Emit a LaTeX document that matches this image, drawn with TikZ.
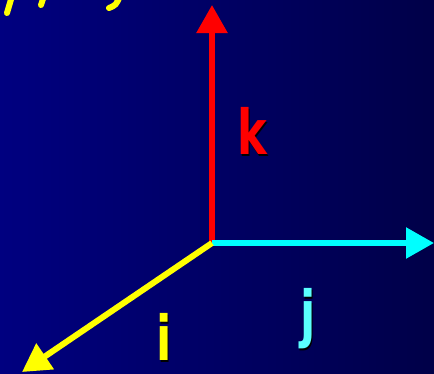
\documentclass[tikz,border=0pt]{standalone}
\definecolor{navyL}{RGB}{0, 0, 128}
\definecolor{navyR}{RGB}{0, 0, 72}
\definecolor{axisI}{RGB}{255, 255, 0}
\definecolor{axisJ}{RGB}{0, 255, 255}
\definecolor{axisK}{RGB}{255, 0, 0}
\definecolor{labJ}{RGB}{90, 255, 255}
\usepackage{tikz}
\usetikzlibrary{arrows.meta, positioning, calc}
\usepackage{fontspec}
\setsansfont{DejaVu Sans}
% letter with a black drop shadow
\newcommand{\shadowed}[2]{\rlap{\kern2pt\raisebox{-2pt}{\color{black}#2}}\textcolor{#1}{#2}}

\begin{document}
\begin{tikzpicture}[x=1pt, y=-1pt,
    axis/.style={line width=5.5pt, -{Triangle[length=28pt, width=30pt]}},
    lab/.style={font=\sffamily\bfseries\fontsize{62}{62}\selectfont, inner sep=0pt, xscale=0.72}]
  % background
  \shade[left color=navyL, right color=navyR] (0,0) rectangle (434,373);
  \useasboundingbox (0,0) rectangle (434,373);

  % cut-off title strokes
  \draw[axisI, line width=6pt, line cap=round] (12,-4) -- (7,13);
  \draw[axisI, line width=6pt, line cap=round] (44,-4) -- (41,5);
  \draw[axisI, line width=6pt, line cap=round] (120,-4) .. controls (116,5) .. (109,8);

  % axes
  \coordinate (o) at (212,243);
  \coordinate (kTip) at (212,5);
  \coordinate (jTip) at (434,243);
  \coordinate (iTip) at (22,372);
  \draw[axis, axisK] (o) -- (kTip);
  \draw[axis, axisJ] (o) -- (jTip);
  \draw[axis, axisI, line width=6pt] (o) -- (iTip);

  % labels
  \node[lab] (k) at (252,132) {\shadowed{axisK}{k}};
  \node[lab] (j) at (308,320) {\shadowed{labJ}{j}};
  \node[lab] (i) at (164,338) {\shadowed{axisI}{i}};
\end{tikzpicture}
\end{document}
